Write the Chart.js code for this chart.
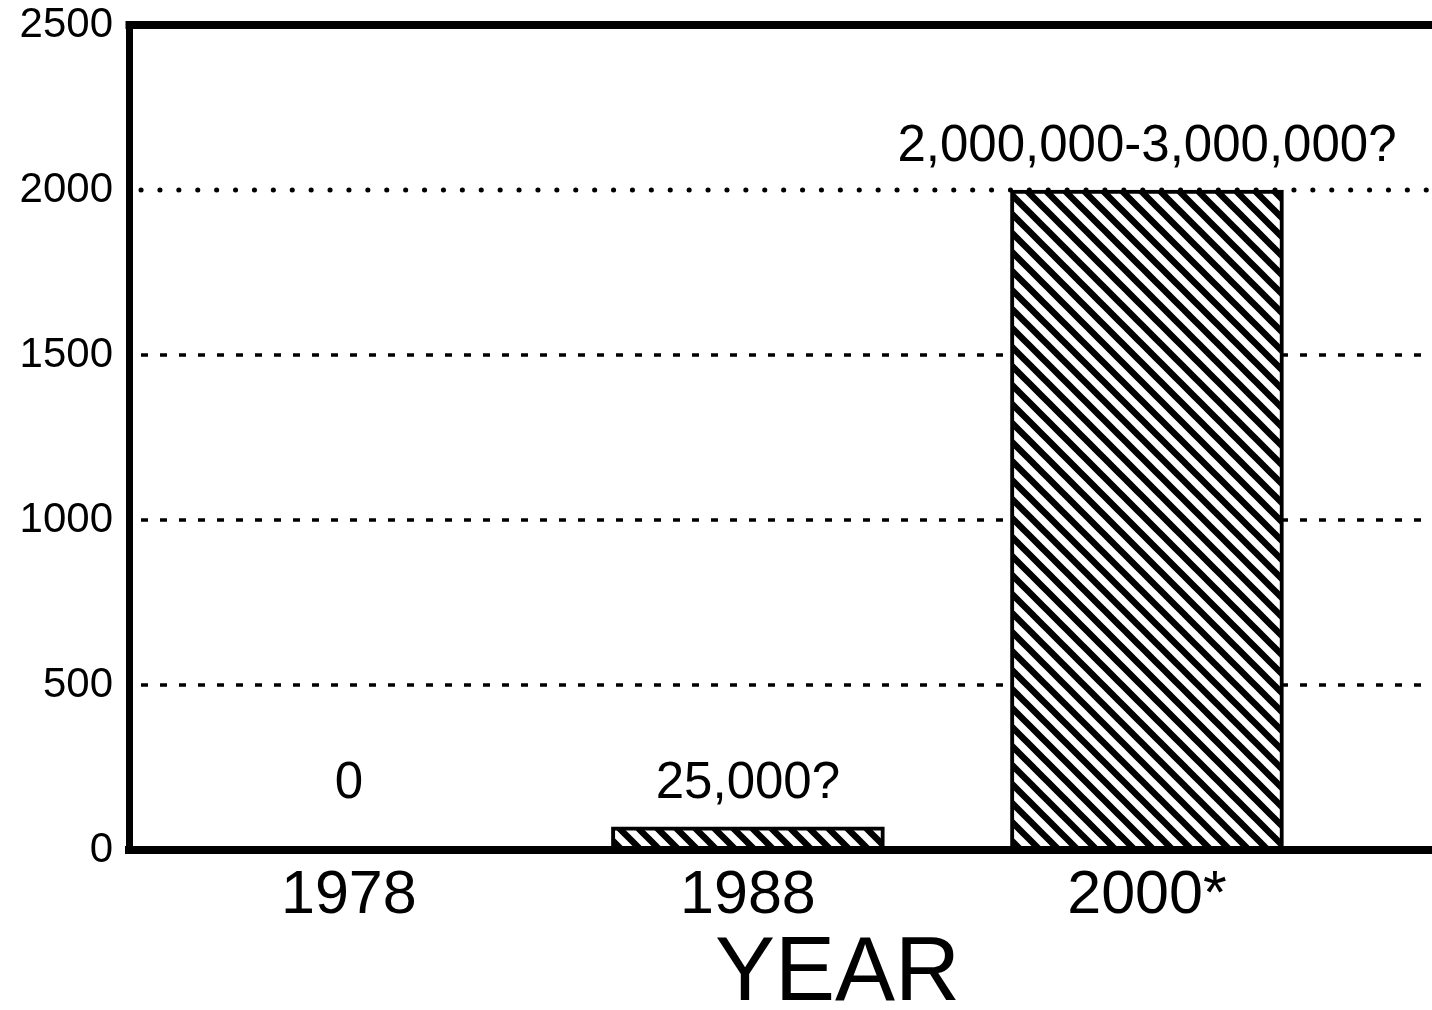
<!doctype html>
<html lang="en">
<head>
<meta charset="utf-8">
<title>YEAR</title>
<style>
  html, body { margin: 0; padding: 0; background: #fff; overflow: hidden; }
</style>
</head>
<body>
<canvas id="myChart" width="1600" height="1010"></canvas>
<script src="https://cdn.jsdelivr.net/npm/chart.js"></script>
<script>
// data
const years = ['1978', '1988', '2000*'];
const values = [0, 70, 2000];
const valueLabels = ['0', '25,000?', '2,000,000-3,000,000?'];
const yTicks = [0, 500, 1000, 1500, 2000, 2500];
const dottedLines = [2000];

const FONT = '"Liberation Sans", Arial, Helvetica, sans-serif';

// white bar with black "\" stripes
function hatch() {
    const c = document.createElement('canvas');
    c.width = 19; c.height = 19;
    const g = c.getContext('2d');
    g.fillStyle = '#fff';
    g.fillRect(0, 0, 19, 19);
    g.strokeStyle = '#000';
    g.lineWidth = 6.5;
    g.beginPath();
    for (let k = -1; k <= 1; k++) {
        g.moveTo(k * 19 - 3, -3);
        g.lineTo(k * 19 + 22, 22);
    }
    g.stroke();
    return g.createPattern(c, 'repeat');
}

// dashed / dotted grid lines under the bars
const gridLines = {
    id: 'gridLines',
    beforeDatasetsDraw(chart) {
        const y = chart.scales.y, a = chart.chartArea, ctx = chart.ctx;
        ctx.save();
        ctx.strokeStyle = '#000';
        yTicks.forEach(v => {
            if (v === y.min || v === y.max) return;
            const py = y.getPixelForValue(v);
            if (dottedLines.includes(v)) {
                ctx.lineWidth = 5;
                ctx.lineCap = 'round';
                ctx.setLineDash([0.1, 18.8]);
            } else {
                ctx.lineWidth = 3.5;
                ctx.lineCap = 'butt';
                ctx.setLineDash([7, 12]);
            }
            ctx.beginPath();
            ctx.moveTo(a.left + 12, py);
            ctx.lineTo(a.right, py);
            ctx.stroke();
        });
        ctx.restore();
    }
};

// top edge of the frame and the text above each bar
const extras = {
    id: 'extras',
    afterDatasetsDraw(chart) {
        const a = chart.chartArea, ctx = chart.ctx;
        ctx.save();
        ctx.strokeStyle = '#000';
        ctx.lineWidth = 8;
        ctx.beginPath();
        ctx.moveTo(a.left - 3.5, a.top);
        ctx.lineTo(a.right, a.top);
        ctx.stroke();

        ctx.fillStyle = '#000';
        ctx.font = '51px ' + FONT;
        ctx.textAlign = 'center';
        ctx.textBaseline = 'alphabetic';
        chart.getDatasetMeta(0).data.forEach((el, i) => {
            const top = Math.min(el.y, a.bottom - 23);
            ctx.fillText(valueLabels[i], el.x, top - 29);
        });
        ctx.restore();
    }
};

const ctx = document.getElementById('myChart');

const chart = new Chart(ctx, {
    type: 'bar',
    data: {
        datasets: [{
            data: years.map((_, i) => ({ x: i, y: values[i] })),
            backgroundColor: hatch(),
            borderColor: '#000',
            borderWidth: 4,
            borderSkipped: false,
            barThickness: 273
        }]
    },
    options: {
        responsive: false,
        animation: false,
        events: [],
        layout: { padding: { top: 25, right: 54, left: 0, bottom: 0 } },
        plugins: {
            legend: { display: false },
            tooltip: { enabled: false }
        },
        scales: {
            x: {
                type: 'linear',
                offset: false,
                min: -0.551,
                max: 3,
                afterBuildTicks: s => { s.ticks = years.map((_, i) => ({ value: i })); },
                afterFit: s => { s.height = 160; s.paddingLeft = 0; s.paddingRight = 0; },
                grid: { display: false, drawTicks: false, offset: false },
                border: { display: true, color: '#000', width: 8, z: 1 },
                ticks: {
                    color: '#000',
                    padding: 10,
                    maxRotation: 0,
                    font: { family: FONT, size: 61 },
                    callback: v => years[v]
                },
                title: {
                    display: true,
                    text: 'YEAR',
                    color: '#000',
                    padding: { top: 0, bottom: -10 },
                    font: { family: FONT, size: 90, lineHeight: 1 }
                }
            },
            y: {
                min: 0,
                max: 2500,
                afterBuildTicks: s => { s.ticks = yTicks.map(v => ({ value: v })); },
                afterFit: s => { s.width = 129; s.paddingTop = 0; s.paddingBottom = 0; },
                grid: { display: false, drawTicks: false },
                border: { display: true, color: '#000', width: 7, z: 1 },
                ticks: {
                    color: '#000',
                    padding: 16,
                    font: { family: FONT, size: 42 },
                    callback: v => String(v)
                }
            }
        }
    },
    plugins: [gridLines, extras]
});
</script>
</body>
</html>
